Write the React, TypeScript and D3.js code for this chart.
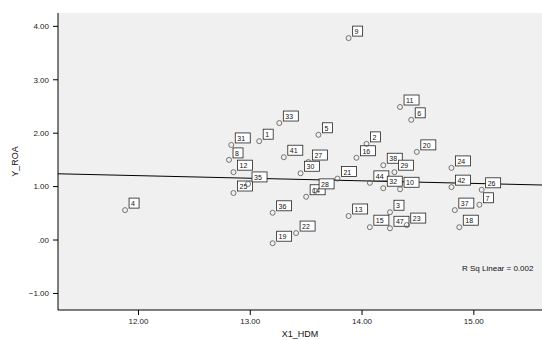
import React from 'react';
import * as d3 from 'd3';

// values (X1_HDM vs Y_ROA)
const caseLabels = ['4', '9', '12', '25', '31', '8', '33', '41', '5', '27', '14', '36', '22', '19', '16', '2', '38', '29', '44', '11', '6', '20', '3', '15', '47', '13', '24', '42', '7', '18', '37', '26', '21', '32', '10', '35', '28', '1', '23', '30'];
const xValues = [11.88, 13.88, 12.85, 12.85, 12.83, 12.81, 13.26, 13.30, 13.61, 13.52, 13.50, 13.20, 13.41, 13.20, 13.95, 14.04, 14.19, 14.29, 14.07, 14.34, 14.44, 14.49, 14.25, 14.07, 14.25, 13.88, 14.80, 14.80, 15.05, 14.87, 14.83, 15.07, 13.78, 14.19, 14.34, 12.98, 13.58, 13.08, 14.40, 13.45];
const yValues = [0.56, 3.78, 1.27, 0.88, 1.78, 1.50, 2.19, 1.55, 1.97, 1.46, 0.81, 0.51, 0.13, -0.06, 1.54, 1.80, 1.40, 1.27, 1.07, 2.49, 2.25, 1.65, 0.52, 0.24, 0.22, 0.45, 1.35, 0.99, 0.66, 0.24, 0.56, 0.94, 1.15, 0.97, 0.95, 1.05, 0.92, 1.85, 0.28, 1.25];
const xTicks = [12, 13, 14, 15];
const yTicks = [-1, 0, 1, 2, 3, 4];
const fitLine = [1.787, -0.0485]; // intercept, slope
const rSquare = '0.002';

const W = 542;
const H = 340;
const m = { left: 58, right: 0, top: 13, bottom: 30 };

const App = () => {
  const x = d3.scaleLinear().domain([11.28, 15.61]).range([m.left, W - m.right]);
  const y = d3.scaleLinear().domain([-1.31, 4.25]).range([H - m.bottom, m.top]);
  const pts = xValues.map((v, i) => ({ x: v, y: yValues[i], label: caseLabels[i] }));
  const [a, b] = fitLine;
  const line = d3.line<number>().x((d) => x(d)).y((d) => y(a + b * d));
  const fmt = (v: number) => (v === 0 ? '.00' : d3.format('.2f')(v));
  const font = 'Liberation Sans, Arial, sans-serif';

  return (
    <svg width={W} height={H} style={{ position: 'absolute', left: 0, top: 0 }} fontFamily={font}>
      <rect width={W} height={H} fill="#fff" />
      <rect x={m.left} y={m.top} width={W - m.left - m.right} height={H - m.top - m.bottom} fill="#f0f0f0" />
      <path d={line(x.domain()) || ''} stroke="#000" strokeWidth={1} fill="none" />
      {pts.map((d, i) => (
        <g key={i} transform={`translate(${x(d.x)},${y(d.y)})`}>
          <circle r={2.5} fill="none" stroke="#555" strokeWidth={0.8} />
          <rect x={4} y={-12} width={d.label.length * 5 + 5} height={10} fill="#fff" stroke="#222" strokeWidth={0.8} />
          <text x={6} y={-4} fontSize={7} fill="#111">{d.label}</text>
        </g>
      ))}
      <line x1={m.left} x2={m.left} y1={m.top} y2={H - m.bottom} stroke="#000" />
      <line x1={m.left} x2={W} y1={H - m.bottom} y2={H - m.bottom} stroke="#000" />
      {yTicks.map((t) => (
        <g key={t} transform={`translate(${m.left},${y(t)})`}>
          <line x1={-5} x2={0} stroke="#000" />
          <text x={-9} dy="0.35em" textAnchor="end" fontSize={8} fill="#222">{fmt(t)}</text>
        </g>
      ))}
      {xTicks.map((t) => (
        <g key={t} transform={`translate(${x(t)},${H - m.bottom})`}>
          <line y1={0} y2={5} stroke="#000" />
          <text y={14} textAnchor="middle" fontSize={8} fill="#222">{fmt(t)}</text>
        </g>
      ))}
      <text x={462} y={y(-0.58)} fontSize={8} fill="#111">R Sq Linear = {rSquare}</text>
      <text transform={`translate(18,${(m.top + H - m.bottom) / 2}) rotate(-90)`} textAnchor="middle" fontSize={9} fill="#111">Y_ROA</text>
      <text x={(m.left + W) / 2} y={H - 3} textAnchor="middle" fontSize={9} fill="#111">X1_HDM</text>
    </svg>
  );
};

export default App;
